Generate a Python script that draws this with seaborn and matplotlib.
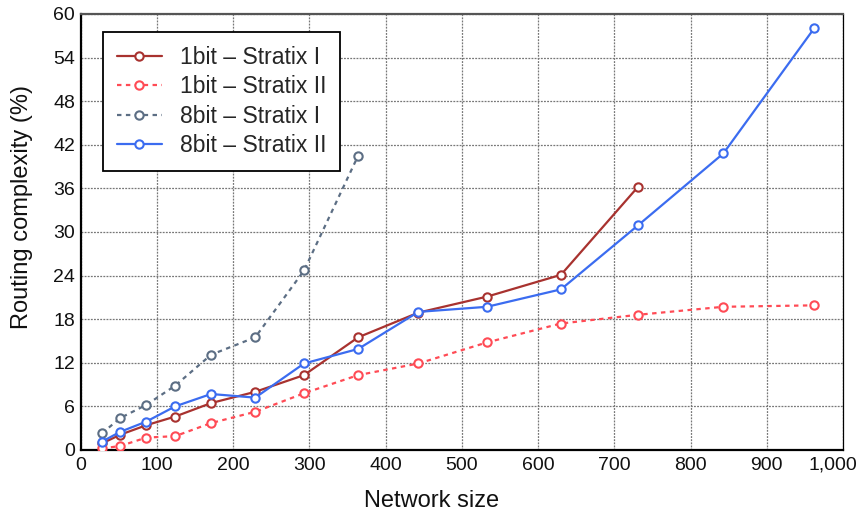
import matplotlib
matplotlib.use("Agg")
import matplotlib.pyplot as plt
import seaborn as sns
from matplotlib.ticker import FuncFormatter, MultipleLocator
from matplotlib.transforms import ScaledTranslation

# Data
network_size = [28, 52, 86, 124, 171, 229, 293, 364, 443, 533, 630, 731, 843, 962]

onebit_s1 = [0.9, 2.1, 3.4, 4.6, 6.45, 8.0, 10.3, 15.5, 18.9, 21.1, 24.1, 36.2]
onebit_s2 = [0.2, 0.55, 1.7, 1.9, 3.7, 5.25, 7.8, 10.3, 11.9, 14.8, 17.4, 18.6, 19.7, 19.9]
eightbit_s1 = [2.3, 4.4, 6.2, 8.85, 13.1, 15.5, 24.7, 40.5]
eightbit_s2 = [1.15, 2.5, 3.9, 6.0, 7.7, 7.2, 11.9, 13.9, 19.0, 19.7, 22.1, 30.9, 40.8, 58.0]

labels = ["1bit \u2013 Stratix I", "1bit \u2013 Stratix II",
          "8bit \u2013 Stratix I", "8bit \u2013 Stratix II"]
x_ticks = list(range(0, 1001, 100))

sns.set_style("white")
plt.rcParams['font.family'] = ['Liberation Sans', 'DejaVu Sans']

fig = plt.figure(figsize=(8.62, 5.16), dpi=100)
ax = fig.add_axes([0.0936, 0.128, 0.978 - 0.0936, 0.973 - 0.128])

series = [
    (onebit_s1, "#A8322F", "-", labels[0]),
    (onebit_s2, "#FF4B55", (0, (2, 2)), labels[1]),
    (eightbit_s1, "#5C6E84", (0, (2, 2)), labels[2]),
    (eightbit_s2, "#3B6CF0", "-", labels[3]),
]

for vals, col, ls, lab in series:
    sns.lineplot(x=network_size[:len(vals)], y=vals, ax=ax, color=col,
                 linestyle=ls, linewidth=1.6, marker="o", markersize=6,
                 markerfacecolor="white", markeredgecolor=col,
                 markeredgewidth=1.5, label=lab, zorder=3)

ax.set_xlim(0, 1000)
ax.set_ylim(0, 60)
ax.set_xticks(x_ticks)
ax.yaxis.set_major_locator(MultipleLocator(6))
ax.xaxis.set_major_formatter(FuncFormatter(lambda v, p: f"{int(round(v)):,}"))
ax.yaxis.set_major_formatter(FuncFormatter(lambda v, p: f"{int(round(v))}"))

ax.grid(True, linestyle=(0, (1.5, 1.0)), color="#777777", linewidth=0.9)
ax.set_axisbelow(True)

ax.tick_params(axis="both", length=0, labelsize=14, colors="#111111")
ax.tick_params(axis="x", pad=5)
ax.tick_params(axis="y", pad=4)

for side in ["left", "bottom"]:
    ax.spines[side].set_color("black")
    ax.spines[side].set_linewidth(1.6)
ax.spines["top"].set_color("#555555")
ax.spines["top"].set_linewidth(1.6)
ax.spines["right"].set_color("black")
ax.spines["right"].set_linewidth(0.9)
for s in ax.spines.values():
    s.set_visible(True)

ax.set_xlabel("Network size", fontsize=17, color="#111111")
ax.set_ylabel("Routing complexity (%)", fontsize=17, color="#111111")
ax.xaxis.set_label_coords(0.46, -0.092)
ax.yaxis.set_label_coords(-0.063, 0.557)

leg = ax.legend(loc="upper left", bbox_to_anchor=(0.029, 0.959), fontsize=16.5,
                frameon=True, fancybox=False, edgecolor="black",
                borderaxespad=0.0, labelspacing=0.29, handlelength=2.0,
                handletextpad=0.75, borderpad=0.6)
leg.get_frame().set_linewidth(1.3)
leg.get_frame().set_alpha(1)

fig.canvas.draw()
last = ax.xaxis.get_major_ticks()[-1].label1
last.set_transform(last.get_transform() + ScaledTranslation(-10 / 100, 0, fig.dpi_scale_trans))

fig.savefig("out.png", dpi=100)
